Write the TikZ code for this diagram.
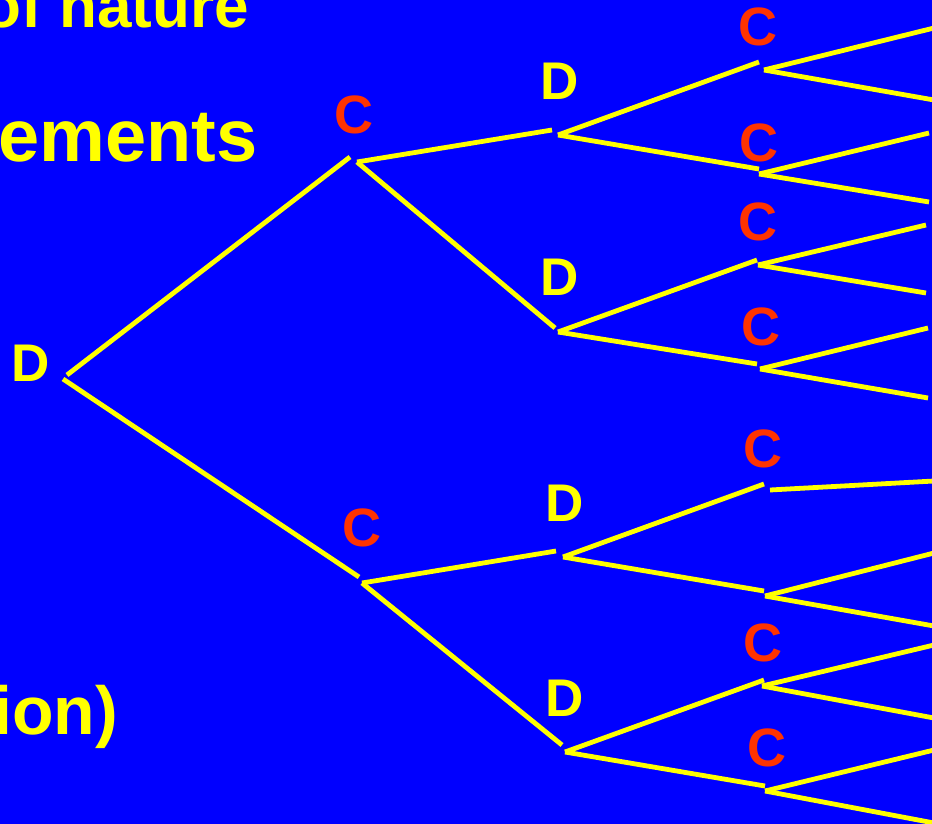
\documentclass[tikz,border=0pt]{standalone}
\usepackage{fontspec}
\setmainfont{Liberation Sans}
\definecolor{bgblue}{RGB}{0,0,255}
\definecolor{ly}{RGB}{255,255,0}
\definecolor{lred}{RGB}{255,51,0}
\begin{document}
\begin{tikzpicture}[x=1pt,y=-1pt,
  branch/.style={draw=ly,line width=4.8pt},
  clab/.style={text=lred,font=\fontsize{54}{54}\selectfont\bfseries,anchor=base,inner sep=0pt},
  dlab/.style={text=ly,font=\fontsize{53}{53}\selectfont\bfseries,anchor=base,inner sep=0pt},
  ttl/.style={text=ly,font=\bfseries,anchor=base east,inner sep=0pt}]
\fill[bgblue] (0,0) rectangle (932,824);
\useasboundingbox (0,0) rectangle (932,824);
\clip (0,0) rectangle (932,824);
% title fragments
\node[ttl,font=\fontsize{62}{62}\selectfont\bfseries] (t1) at (249,28) {of nature};
\node[ttl,font=\fontsize{74}{74}\selectfont\bfseries] (t2) at (258,162) {ements};
\node[ttl,font=\fontsize{68}{68}\selectfont\bfseries] (t3) at (118,734) {ion)};
% tree vertices
\coordinate (ra) at (67,375); \coordinate (rb) at (63,379);
\coordinate (cuin) at (350,157); \coordinate (cuout) at (357,162);
\coordinate (clin) at (359,577); \coordinate (clout) at (362,583);
\coordinate (d1in) at (552,130); \coordinate (d1out) at (558,135);
\coordinate (d2in) at (555,328); \coordinate (d2out) at (558,332);
\coordinate (d3in) at (556,551); \coordinate (d3out) at (563,557);
\coordinate (d4in) at (562,745); \coordinate (d4out) at (565,752);
\coordinate (c1in) at (759,62);  \coordinate (c1out) at (764,70);
\coordinate (c2in) at (759,169); \coordinate (c2out) at (759,174);
\coordinate (c3in) at (757,260); \coordinate (c3out) at (758,265);
\coordinate (c4in) at (757,364); \coordinate (c4out) at (760,369);
\coordinate (c5in) at (764,484); \coordinate (c5out) at (770,490);
\coordinate (c6in) at (764,591); \coordinate (c6out) at (765,596);
\coordinate (c7in) at (764,680); \coordinate (c7out) at (762,686);
\coordinate (c8in) at (765,786); \coordinate (c8out) at (765,791);
% leaves
\coordinate (l1a) at (934,28);  \coordinate (l1b) at (934,100);
\coordinate (l2a) at (929,133); \coordinate (l2b) at (929,202);
\coordinate (l3a) at (926,225); \coordinate (l3b) at (926,293);
\coordinate (l4a) at (928,328); \coordinate (l4b) at (928,398);
\coordinate (l5a) at (934,481);
\coordinate (l6a) at (934,553); \coordinate (l6b) at (934,626);
\coordinate (l7a) at (934,645); \coordinate (l7b) at (934,718);
\coordinate (l8a) at (934,750); \coordinate (l8b) at (934,823);
% branches
\draw[branch] (ra) -- (cuin);
\draw[branch] (rb) -- (clin);
\draw[branch] (cuout) -- (d1in);
\draw[branch] (cuout) -- (d2in);
\draw[branch] (clout) -- (d3in);
\draw[branch] (clout) -- (d4in);
\draw[branch] (d1out) -- (c1in);
\draw[branch] (d1out) -- (c2in);
\draw[branch] (d2out) -- (c3in);
\draw[branch] (d2out) -- (c4in);
\draw[branch] (d3out) -- (c5in);
\draw[branch] (d3out) -- (c6in);
\draw[branch] (d4out) -- (c7in);
\draw[branch] (d4out) -- (c8in);
\draw[branch] (c1out) -- (l1a); \draw[branch] (c1out) -- (l1b);
\draw[branch] (c2out) -- (l2a); \draw[branch] (c2out) -- (l2b);
\draw[branch] (c3out) -- (l3a); \draw[branch] (c3out) -- (l3b);
\draw[branch] (c4out) -- (l4a); \draw[branch] (c4out) -- (l4b);
\draw[branch] (c5out) -- (l5a);
\draw[branch] (c6out) -- (l6a); \draw[branch] (c6out) -- (l6b);
\draw[branch] (c7out) -- (l7a); \draw[branch] (c7out) -- (l7b);
\draw[branch] (c8out) -- (l8a); \draw[branch] (c8out) -- (l8b);
% labels
\node[dlab] (Lr) at (31,381) {D};
\node[clab] (Lcu) at (354,134) {C};
\node[clab] (Lcl) at (362,546) {C};
\node[dlab] (Ld1) at (560,100) {D};
\node[dlab] (Ld2) at (560,295) {D};
\node[dlab] (Ld3) at (565,521) {D};
\node[dlab] (Ld4) at (565,716) {D};
\node[clab] (Lc1) at (758,46) {C};
\node[clab] (Lc2) at (759,161) {C};
\node[clab] (Lc3) at (758,240) {C};
\node[clab] (Lc4) at (761,345) {C};
\node[clab] (Lc5) at (763,467) {C};
\node[clab] (Lc7) at (763,661) {C};
\node[clab] (Lc8) at (767,766) {C};
\end{tikzpicture}
\end{document}
